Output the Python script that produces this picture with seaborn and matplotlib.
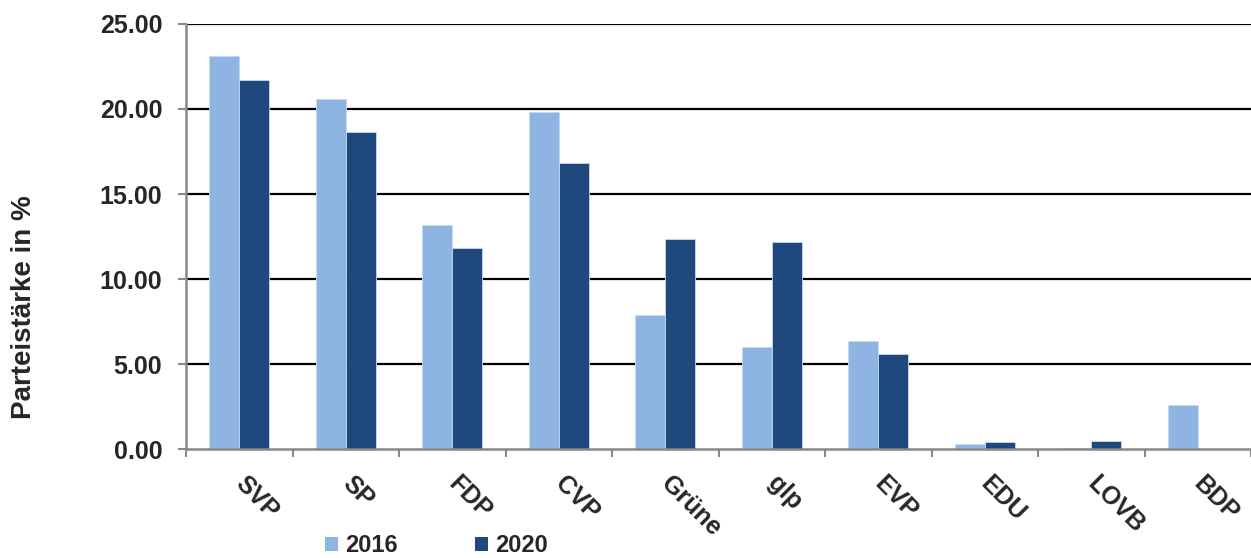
import numpy as np
import pandas as pd
import matplotlib
matplotlib.use("Agg")
import matplotlib.pyplot as plt
import seaborn as sns
from matplotlib.patches import Patch

parties = ["SVP", "SP", "FDP", "CVP", "Grüne", "glp", "EVP", "EDU", "LOVB", "BDP"]
v2016 = [23.1, 20.6, 13.2, 19.8, 7.9, 6.0, 6.35, 0.3, 0.08, 2.6]
v2020 = [21.7, 18.65, 11.8, 16.8, 12.33, 12.2, 5.6, 0.4, 0.5, np.nan]
years = ["2016", "2020"]
colors = ["#8EB4E3", "#1F497D"]
yticks = [0, 5, 10, 15, 20, 25]

df = pd.DataFrame({
    "Partei": parties * 2,
    "Jahr": [years[0]] * len(parties) + [years[1]] * len(parties),
    "Wert": v2016 + v2020,
})

sns.set_theme(style="white")
plt.rcParams['font.family'] = ['Liberation Sans', 'DejaVu Sans']

fig = plt.figure(figsize=(12.51, 5.58), dpi=100)
ax = fig.add_axes([0.1487, 0.1953, 0.8513, 0.7617])

sns.barplot(data=df, x="Partei", y="Wert", hue="Jahr", order=parties,
            hue_order=years, palette=colors, width=0.56, ax=ax,
            edgecolor="#c9d9ee", linewidth=0.6, legend=False, saturation=1)

ax.set_ylim(0, 25)
ax.set_xlim(-0.5, len(parties) - 0.5)
ax.set_yticks(yticks)
ax.set_yticklabels([f"{t:.2f}" for t in yticks], fontsize=18, fontweight="bold")
for t in yticks[1:]:
    ax.axhline(t, color="black", linewidth=1.6, zorder=0)

ax.set_xticks(np.arange(len(parties) + 1) - 0.5, minor=True)
ax.set_xticks(np.arange(len(parties)))
ax.set_xticklabels(parties, fontsize=18, fontweight="bold",
                   rotation=-45, ha="left", va="center", rotation_mode="anchor")
ax.tick_params(axis="x", which="major", length=0, pad=22)
ax.tick_params(axis="x", which="minor", length=6, width=1.5, color="#888888", direction="out", bottom=True)
ax.tick_params(axis="y", length=6, width=1.5, color="#888888", direction="out", left=True, pad=11)

for s in ["top", "right"]:
    ax.spines[s].set_visible(False)
for s in ["left", "bottom"]:
    ax.spines[s].set_color("#888888")
    ax.spines[s].set_linewidth(1.8)
    ax.spines[s].set_zorder(5)

ax.set_xlabel("")
ax.set_ylabel("")
fig.text(24 / 1251, 1 - 307 / 558, "Parteistärke in %", rotation=90, ha="center", va="center",
         fontsize=20, fontweight="bold")

handles = [Patch(facecolor=c, edgecolor="none", label=y) for c, y in zip(colors, years)]
fig.legend(handles=handles, loc="center", bbox_to_anchor=(0.349, 0.022), ncol=2,
           frameon=False, prop={"size": 17, "weight": "bold"},
           handlelength=0.55, handleheight=0.55, handletextpad=0.3, columnspacing=3.3)

fig.savefig("out.png", dpi=100)
